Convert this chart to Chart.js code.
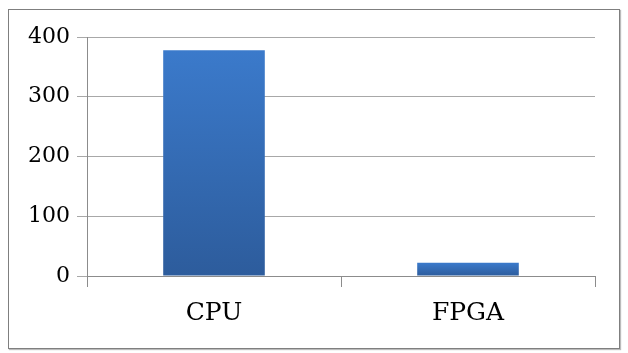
<!DOCTYPE html>
<html>
<head>
<meta charset="utf-8">
<script src="https://cdn.jsdelivr.net/npm/chart.js"></script>
<style>
  body { margin: 0; background: #fff; }
  #wrap { position: relative; width: 628px; height: 353px; }
  #frame {
    position: absolute; left: 8px; top: 9px; width: 610px; height: 338px;
    border: 1px solid #7f7f7f; box-shadow: 1px 1px 1px #bbb;
  }
  canvas { position: absolute; left: 0; top: 0; }
</style>
</head>
<body>
<div id="wrap">
  <div id="frame"></div>
  <canvas id="barChart" width="628" height="353"></canvas>
</div>
<script>
// 分類與數值
const categoryLabels = ["CPU", "FPGA"];
const valueList = [378, 22];
const yTickValues = [0, 100, 200, 300, 400];

const barChartElm = document.querySelector("#barChart");

// 每根柱子自己的漸層：上淺下深
function barGradient(context) {
  const chart = context.chart;
  const area = chart.chartArea;
  if (!area || context.parsed === undefined) return "#3a75c4";
  const top = chart.scales.y.getPixelForValue(context.parsed.y);
  const g = chart.ctx.createLinearGradient(0, top, 0, area.bottom);
  g.addColorStop(0, "#3b7acb");
  g.addColorStop(1, "#2d5c9c");
  return g;
}

const data = {
  labels: categoryLabels,
  datasets: [
    {
      data: valueList,
      backgroundColor: barGradient,
      borderWidth: 0,
      barPercentage: 0.4,
      categoryPercentage: 1,
    },
  ],
};

const config = {
  type: "bar",
  data: data,
  options: {
    responsive: false,
    animation: false,
    layout: { padding: { top: 37, right: 33, left: 0, bottom: 0 } },
    plugins: { legend: { display: false }, tooltip: { enabled: false } },
    scales: {
      x: {
        afterFit: (scale) => { scale.height = 77; },
        grid: {
          offset: true,
          drawOnChartArea: false,
          drawTicks: true,
          tickLength: 11,
          color: "#8c8c8c",
        },
        border: { color: "#8c8c8c" },
        ticks: {
          color: "#000",
          padding: 11,
          font: { family: "DejaVu Serif", size: 25 },
        },
      },
      y: {
        min: 0,
        max: 400,
        afterFit: (scale) => { scale.width = 87; },
        afterBuildTicks: (scale) => {
          scale.ticks = yTickValues.map((v) => ({ value: v }));
        },
        grid: { color: "#a8a8a8", tickLength: 10 },
        border: { color: "#8c8c8c" },
        ticks: {
          color: "#000",
          padding: 7,
          font: { family: "DejaVu Serif", size: 22 },
        },
      },
    },
  },
};

new Chart(barChartElm, config);
</script>
</body>
</html>
